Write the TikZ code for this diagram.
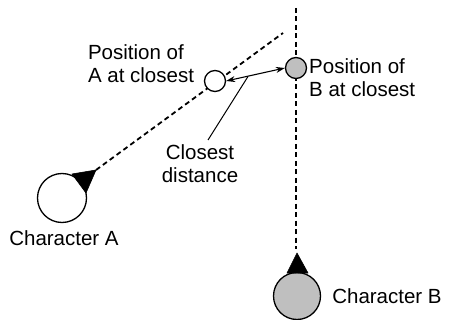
\documentclass[tikz,border=0pt]{standalone}
\usepackage{fontspec}
\setmainfont{Liberation Sans}
\usetikzlibrary{arrows.meta,backgrounds}
\begin{document}
\begin{tikzpicture}[x=1pt,y=-1pt,
  lbl/.style={font=\fontsize{20.5}{23}\selectfont, inner sep=0pt},
  body/.style={circle, draw, line width=1.3pt, inner sep=0pt},
  dsh/.style={line width=1.8pt, dash pattern=on 5pt off 3.5pt},
  tri/.style={fill=black, draw=black, line width=0.6pt, line join=round}]
\useasboundingbox (0,0) rectangle (454,320);
% bodies
\node[body, minimum size=49pt, fill=white] (A) at (62,198) {};
\node[body, minimum size=21pt, fill=white] (Ac) at (215,81) {};
\node[body, minimum size=21pt, fill=gray!50] (Bc) at (296,68) {};
\node[body, minimum size=47pt, fill=gray!50] (B) at (297,296) {};
% heading triangles
\coordinate (At) at (96,170);
\coordinate (Bt) at (297,253);
\fill[tri] (At) -- (72,174) -- (86,193) -- cycle;
\fill[tri] (Bt) -- (287,273) -- (308,273) -- cycle;
% paths (behind the bodies)
\coordinate (Aend) at (283,33);
\coordinate (Btop) at (296,8);
\coordinate (Bbot) at (296,249);
\begin{pgfonlayer}{background}
\draw[dsh] (At) -- (Aend);
\draw[dsh] (Btop) -- (Bbot);
\end{pgfonlayer}
% closest distance arrow
\draw[line width=1.1pt, {Stealth[length=9pt,width=6pt]}-{Stealth[length=9pt,width=6pt]}] (Ac.east) -- (Bc.west);
\coordinate (ptr) at (248,76.5);
% labels
\node[lbl, align=left] (LA) at (141,64) {Position of\\A at closest};
\node[lbl, align=left, anchor=west] (LB) at (309,78) {Position of\\B at closest};
\node[lbl, align=center] (LD) at (200,164) {Closest\\distance};
\node[lbl] (LCA) at (64,238) {Character A};
\node[lbl] (LCB) at (387,296) {Character B};
\draw[line width=1pt] (ptr) -- (208,140);
\end{tikzpicture}
\end{document}
